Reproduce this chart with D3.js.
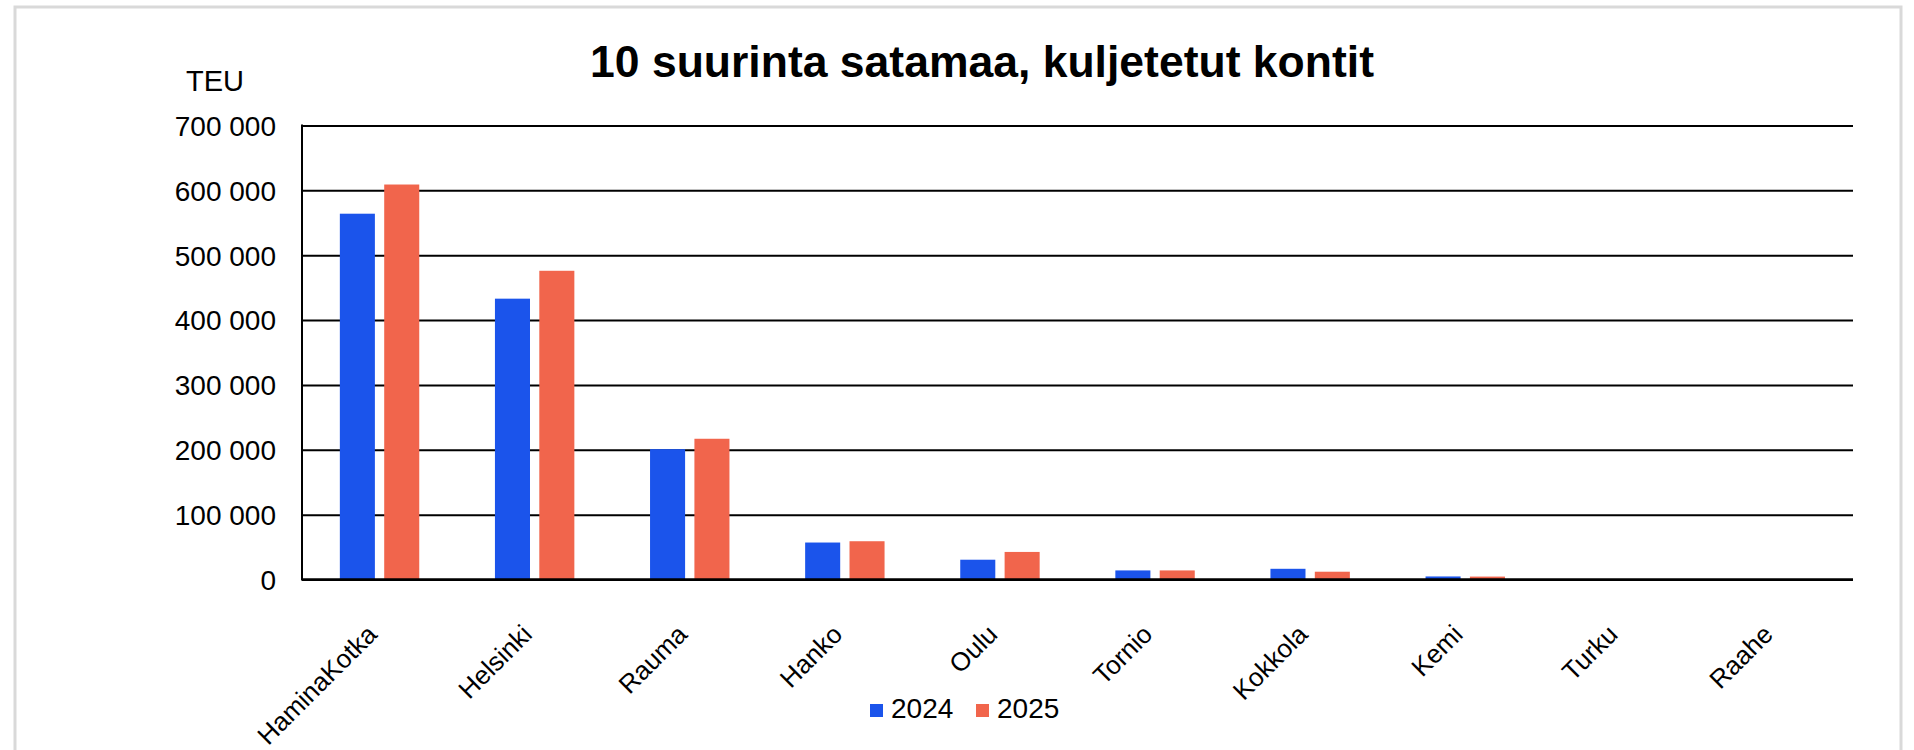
<!DOCTYPE html>
<html>
<head>
<meta charset="utf-8">
<script src="https://cdn.jsdelivr.net/npm/d3@7"></script>
<style>
  html, body { margin: 0; padding: 0; background: #fff; }
  svg { display: block; font-family: 'Liberation Sans', Arial, sans-serif; }
</style>
</head>
<body>
<div id="chart"></div>
<script>
// chart data
const ports = ['HaminaKotka', 'Helsinki', 'Rauma', 'Hanko', 'Oulu', 'Tornio', 'Kokkola', 'Kemi', 'Turku', 'Raahe'];
const years = ['2024', '2025'];
const teu2024 = [564000, 433000, 201000, 57000, 30500, 14000, 16500, 4700, 0, 0];
const teu2025 = [609000, 476000, 217000, 59000, 42500, 14000, 12000, 4500, 0, 0];
const yTicks = [0, 100000, 200000, 300000, 400000, 500000, 600000, 700000];
const title = '10 suurinta satamaa, kuljetetut kontit';
const yLabel = 'TEU';

const colors = {'2024': '#1b54eb', '2025': '#f1654c'};
const width = 1914;
const height = 750;
const plot = {left: 302, right: 1853, top: 125.5, bottom: 579.5};

const series = years.map((yr, i) => ({
  key: yr,
  values: (i === 0 ? teu2024 : teu2025)
}));

const svg = d3.select('#chart').append('svg')
  .attr('width', width)
  .attr('height', height);

// outer frame
svg.append('rect')
  .attr('x', 15)
  .attr('y', 7)
  .attr('width', 1886)
  .attr('height', 780)
  .attr('fill', '#fff')
  .attr('stroke', '#d9d9d9')
  .attr('stroke-width', 3);

// scales
const x0 = d3.scaleBand()
  .domain(ports)
  .range([plot.left, plot.right])
  .paddingInner(0.488)
  .paddingOuter(0.244);

const x1 = d3.scaleBand()
  .domain(years)
  .range([0, x0.bandwidth()])
  .paddingInner(0.21);

const y = d3.scaleLinear()
  .domain([0, 700000])
  .range([plot.bottom, plot.top]);

const fiLocale = d3.formatLocale({decimal: ',', thousands: ' ', grouping: [3], currency: ['', ' €']});
const fmt = fiLocale.format(',d');

// Y axis with gridlines
const yAxis = d3.axisLeft(y)
  .tickValues(yTicks)
  .tickSize(-(plot.right - plot.left))
  .tickPadding(26)
  .tickFormat(fmt);

const gy = svg.append('g')
  .attr('class', 'axis axis--y')
  .attr('transform', 'translate(' + plot.left + ',0)')
  .call(yAxis);

gy.select('.domain').remove();
gy.selectAll('.tick line')
  .attr('stroke', '#000')
  .attr('stroke-width', 2);
gy.selectAll('.tick text')
  .attr('fill', '#000')
  .attr('font-size', '28px')
  .attr('dy', '0.35em');

// Bars
const groups = svg.append('g')
  .attr('class', 'bars')
  .selectAll('g')
  .data(series)
  .enter().append('g')
    .attr('fill', d => colors[d.key]);

groups.selectAll('rect')
  .data(d => d.values.map((v, i) => ({key: d.key, port: ports[i], value: v})))
  .enter().append('rect')
    .attr('x', d => x0(d.port) + x1(d.key))
    .attr('y', d => y(d.value))
    .attr('width', x1.bandwidth())
    .attr('height', d => y(0) - y(d.value));

// zero line and left axis line
svg.append('line')
  .attr('x1', plot.left)
  .attr('x2', plot.right)
  .attr('y1', y(0))
  .attr('y2', y(0))
  .attr('stroke', '#000')
  .attr('stroke-width', 2.5);

svg.append('line')
  .attr('x1', plot.left)
  .attr('x2', plot.left)
  .attr('y1', y(700000) - 1)
  .attr('y2', y(0) + 1)
  .attr('stroke', '#000')
  .attr('stroke-width', 2);

// X labels, rotated
svg.append('g')
  .attr('class', 'axis axis--x')
  .selectAll('text')
  .data(ports)
  .enter().append('text')
    .attr('transform', d => 'translate(' + (x0(d) + x0.bandwidth() / 2 - 1) + ',636) rotate(-45)')
    .attr('text-anchor', 'end')
    .attr('font-size', '26px')
    .attr('fill', '#000')
    .text(d => d);

// title
svg.append('text')
  .attr('x', 982)
  .attr('y', 77)
  .attr('text-anchor', 'middle')
  .attr('font-size', '44.5px')
  .attr('font-weight', 'bold')
  .attr('fill', '#000')
  .text(title);

// y unit label
svg.append('text')
  .attr('x', 186)
  .attr('y', 91)
  .attr('font-size', '29px')
  .attr('fill', '#000')
  .text(yLabel);

// legend
const legend = svg.append('g')
  .attr('class', 'legend')
  .attr('transform', 'translate(870,704)');

const items = legend.selectAll('g')
  .data(years)
  .enter().append('g')
    .attr('transform', (d, i) => 'translate(' + (i * 106) + ',0)');

items.append('rect')
  .attr('width', 13)
  .attr('height', 13)
  .attr('fill', d => colors[d]);

items.append('text')
  .attr('x', 21)
  .attr('y', 14)
  .attr('font-size', '28px')
  .attr('fill', '#000')
  .text(d => d);
</script>
</body>
</html>
